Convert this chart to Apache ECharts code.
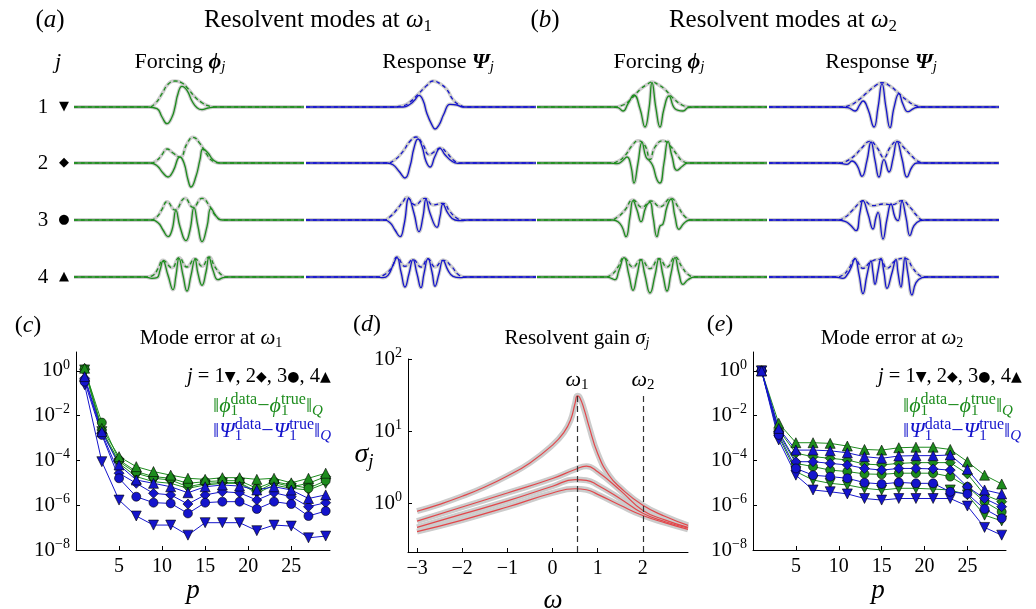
<!doctype html>
<html>
<head>
<meta charset="utf-8">
<title>Resolvent modes and mode errors</title>
<script src="https://cdn.jsdelivr.net/npm/echarts@6/dist/echarts.min.js"></script>
<style>body{margin:0;background:#fff}#main{width:1036px;height:609px}</style>
</head>
<body>
<div id="main"></div>
<script>
var SERIF = 'Liberation Serif';
var GREEN = '#1d8c1d', BLUE = '#1414cc', RED = '#e2474b', GRAY = '#cccccc';

// ---- mode shapes: [position, amplitude] pairs, |mode| and Re(mode) for j = 1..4 ----
var forc1Abs = [
  [[74,0],[81,3.3],[88,13.3],[94,22.7],[101,26],[108,24],[114,18.3],[121,10],[128,4.3],[134,1.3],[141,0]],
  [[76,0],[83,2.7],[88,8.3],[93,14],[99,10],[106,5.7],[113,19.3],[119,25.7],[126,19.3],[133,8.3],[139,1.7],[146,0]],
  [[76,0],[83,3.3],[88,10.7],[93,18.3],[101,10],[111,21.7],[119,12.7],[128,21.7],[136,13.3],[141,5],[148,0]],
  [[71,0],[79,1.7],[84,8.3],[89,16.7],[98,9.3],[105,19.3],[113,10],[121,18.3],[128,10.7],[135,20],[141,10],[148,1.7],[153,0]]
];
var forc1Re = [
  [[74,0],[83,-1.7],[88,-10],[93,-16.7],[98,-10],[101,0],[104,13.3],[108,20.7],[113,16.7],[118,6],[123,-0.7],[128,-2.7],[134,-1],[141,0]],
  [[76,0],[83,-2.7],[89,-10],[94,-14],[99,-8.3],[106,6],[110,0],[114,-16.7],[117,-24],[122,-13.3],[126,3.3],[129,14],[134,10],[139,3.3],[146,0]],
  [[76,0],[84,-2.7],[89,-10],[94,-16.7],[98,-10],[102,9.3],[106,-6.7],[112,-20.7],[116,-10],[120,12.3],[124,-6.7],[128,-21.7],[133,-6.7],[137,11.7],[142,4],[148,0]],
  [[71,0],[78,-1.3],[83,-0.7],[86,6.7],[89,16],[94,1.7],[99,-12.7],[102,1.7],[105,18.7],[109,1.7],[113,-14],[117,1.7],[121,17.7],[124,3.3],[128,-8.3],[132,5],[135,19.3],[139,6.7],[144,-2.7],[149,-0.7],[154,0]]
];
var resp1Abs = [
  [[84,0],[96,1],[104,5],[112,12.7],[121,21.7],[127,26],[134,23.3],[141,17.3],[147,7.3],[154,1.7],[161,0]],
  [[81,0],[89,3.3],[97,11.7],[104,21.7],[110,26],[117,18.3],[123,8.3],[129,11.7],[134,15],[141,10],[147,3.3],[154,0]],
  [[77,0],[84,3.3],[91,10.7],[97,18.3],[101,22.7],[109,15],[119,21.7],[127,15],[137,16.7],[144,8.3],[151,1.7],[157,0]],
  [[71,0],[79,2.7],[86,10],[91,20],[99,10.7],[107,17.3],[115,10],[122,18.3],[129,10],[137,16.7],[146,10],[152,2.7],[159,0]]
];
var resp1Re = [
  [[84,0],[97,0],[104,2.7],[109,7.3],[113,11.7],[117,6.7],[121,-6.7],[126,-18],[129,-22],[133,-18],[138,-6.7],[144,2.7],[151,2],[157,0]],
  [[81,0],[87,-1.7],[93,-8.3],[99,-15],[104,-3.3],[108,15],[112,24],[116,16.7],[120,1.7],[124,-4],[129,6.7],[134,14.7],[139,8.3],[146,1.7],[152,-0.3],[159,0]],
  [[77,0],[84,-2.7],[89,-10],[94,-16.7],[98,-5],[103,21.7],[108,6.7],[113,-11.7],[117,3.3],[120,20.7],[124,6.7],[131,-7.3],[134,3.3],[137,16],[142,6.7],[149,0],[156,-0.7],[161,0]],
  [[71,0],[77,-0.7],[82,1.7],[87,11.7],[91,19.3],[95,5],[99,-10],[103,3.3],[107,17.3],[111,3.3],[115,-10.7],[118,3.3],[122,18.3],[126,5],[129,-9.3],[133,3.3],[137,16.7],[142,6.7],[147,0.7],[154,-0.7],[161,0]]
];
var forc2Abs = [
  [[76,0],[86,2],[95,9],[103,17.5],[110,22.5],[115,25],[121,22.5],[128,17.5],[136,9],[145,2],[153,0]],
  [[73,0],[81,1.7],[88,7.3],[95,17.3],[101,22.3],[108,17.3],[113,3.3],[118,16],[126,22.3],[133,17.3],[140,8.3],[146,1.7],[153,0]],
  [[73,0],[81,3.3],[88,10],[96,20],[105,12.7],[114,19],[123,13.3],[134,21.7],[141,13.3],[148,3.3],[155,0]],
  [[68,0],[75,2.7],[81,10],[87,19.3],[96,10],[104,17.3],[113,8.3],[122,18.3],[130,10],[138,20],[145,10],[151,2.7],[158,0]]
];
var forc2Re = [
  [[76,0],[81,-0.7],[86,-4],[91,3.3],[97,12],[103,-1.7],[108,-20],[112,-1.7],[115,24.5],[119,-1.7],[123,-20],[127,-1.7],[132,11],[138,-1.7],[146,-4],[151,-0.7],[156,0]],
  [[73,0],[80,-0.7],[85,1.7],[90,6],[94,-3.3],[97,-20],[101,0],[105,20.7],[109,6],[113,1.7],[116,-3.3],[120,-16.7],[123,-20],[127,0],[131,21.7],[135,6.7],[140,-7.3],[146,-2.7],[151,0]],
  [[76,0],[81,-1.7],[85,-6.7],[89,-16.7],[93,3.3],[96,19.3],[100,10],[104,-1.7],[109,13.3],[113,17.7],[116,3.3],[120,-16.7],[123,-6],[126,-4],[130,13.3],[134,21],[138,3.3],[142,-9.3],[147,-3.3],[153,0]],
  [[70,0],[75,-1.7],[78,-2.7],[82,6.7],[87,19.3],[92,1.7],[96,-13.3],[100,1.7],[104,17.3],[108,1.7],[113,-16],[118,1.7],[122,18.3],[126,1.7],[130,-14],[134,3.3],[138,19.3],[142,3.3],[146,-7.3],[151,-2.7],[158,0]]
];
var resp2Abs = [
  [[71,0],[81,1.7],[89,6.7],[98,14.3],[106,21],[113,24.3],[121,21],[129,14.3],[138,6.7],[146,1.7],[154,0]],
  [[71,0],[79,2.7],[86,7.7],[93,15.3],[101,21.7],[108,15.3],[115,5.3],[121,15.3],[128,21.7],[135,15.3],[143,6.7],[149,1.7],[156,0]],
  [[68,0],[76,2.7],[83,9.3],[91,17.7],[94,19.3],[104,14.3],[114,16],[123,15.3],[133,19.3],[141,12.7],[148,4.3],[154,0]],
  [[66,0],[74,2],[80,8.7],[86,17.7],[94,8.7],[102,15.3],[111,17.7],[118,8.7],[127,16.7],[136,18.7],[144,8.7],[150,2],[156,0]]
];
var resp2Re = [
  [[71,0],[79,-0.7],[86,-4],[91,2.7],[94,6],[99,-2.3],[105,-20],[109,-0.7],[113,23.3],[117,-0.7],[121,-20.7],[125,-0.7],[130,13.3],[134,2.7],[139,-4.7],[145,-1.3],[151,0]],
  [[68,0],[78,-1.3],[83,2],[88,-2.3],[93,-13.3],[98,2.7],[102,21],[106,2.7],[110,-14],[115,3.3],[120,-9],[124,4.3],[128,21.7],[133,4.3],[138,-14],[143,-4],[148,0],[154,0]],
  [[68,0],[76,-1.3],[81,-4.7],[87,-10.7],[91,7.7],[94,19.3],[99,6],[104,-9],[107,2.7],[109,7.7],[114,-19],[118,1],[122,16],[126,2.7],[129,-0.7],[133,18.7],[137,2.7],[141,-15.7],[145,-5.7],[151,-0.7],[156,0]],
  [[66,0],[74,-1.3],[78,2],[82,9.3],[86,18.7],[90,2.7],[94,-16.7],[98,2],[102,16],[104,4.3],[106,-7.3],[109,6],[112,18.7],[115,4.3],[118,-11.3],[123,4.3],[127,17.7],[129,4.3],[132,-10],[134,4.3],[136,19.3],[139,2.7],[143,-18],[147,-5.7],[153,-0.7],[158,0]]
];

// ---- mode errors vs p ----
var pModes = [1,3,5,7,9,11,13,15,17,19,21,23,25,27,29];
// (c) at omega_1
var cPhi1 = [1.11,1.94e-3,7.4e-5,1.9e-5,1.13e-5,9.5e-6,5.7e-6,8.0e-6,9.5e-6,9.5e-6,3.4e-6,8.0e-6,5.7e-6,4.8e-6,9.5e-6];
var cPhi2 = [1.19,2.3e-3,8.8e-5,2.7e-5,1.6e-5,1.34e-5,6.7e-6,9.5e-6,1.02e-5,1.02e-5,4.0e-6,1.02e-5,6.7e-6,9.5e-6,1.9e-5];
var cPhi3 = [1.19,4.9e-3,1.05e-4,3.2e-5,1.9e-5,1.6e-5,9.5e-6,1.13e-5,1.25e-5,1.25e-5,5.7e-6,1.13e-5,8.0e-6,5.7e-6,1.25e-5];
var cPhi4 = [1.32,2.7e-3,1.48e-4,5.3e-5,3.2e-5,2.2e-5,1.6e-5,1.43e-5,1.7e-5,1.7e-5,1.43e-5,1.6e-5,1.0e-5,1.6e-5,2.7e-5];
var cPsi1 = [0.24,8.8e-5,1.7e-6,3.3e-7,1.3e-7,1.3e-7,4.6e-8,1.66e-7,1.66e-7,1.66e-7,7.3e-8,1.3e-7,1.17e-7,3.5e-8,4.2e-8];
var cPsi2 = [0.47,1.63e-3,2.7e-5,9.5e-6,3.4e-6,2.9e-6,1.13e-6,2.9e-6,4.0e-6,3.6e-6,1.7e-6,3.6e-6,2.4e-6,8.6e-7,1.3e-6];
var cPsi3 = [0.33,1.38e-3,1.6e-5,2.4e-6,1.3e-6,1.21e-6,4.3e-7,1.3e-6,1.44e-6,1.44e-6,6.8e-7,1.44e-6,1.13e-6,3.3e-7,5.5e-7];
var cPsi4 = [0.56,1.94e-3,6.3e-5,1.34e-5,9.5e-6,6.7e-6,3.6e-6,6.7e-6,8.0e-6,7.2e-6,4.8e-6,6.7e-6,4.8e-6,2.0e-6,2.9e-6];
// (e) at omega_2
var ePhi1 = [1,1.16e-3,3.2e-5,1.34e-5,9.5e-6,8.0e-6,5.7e-6,4.8e-6,5.7e-6,5.7e-6,5.3e-6,4.8e-6,2.9e-6,3.6e-7,2.0e-7];
var ePhi2 = [1,2.3e-3,2.1e-4,1.48e-4,1.25e-4,1.05e-4,6.9e-5,6.3e-5,7.4e-5,8.0e-5,8.0e-5,8.0e-5,2.5e-5,2.9e-6,1.44e-6];
var ePhi3 = [1,1.63e-3,7.4e-5,5.3e-5,3.7e-5,3.2e-5,2.5e-5,2.4e-5,2.7e-5,2.7e-5,2.7e-5,1.9e-5,6.7e-6,1.44e-6,5.1e-7];
var ePhi4 = [1,4.6e-3,6.2e-4,6.2e-4,5.8e-4,4.4e-4,3.1e-4,2.9e-4,3.7e-4,3.9e-4,3.9e-4,3.1e-4,8.8e-5,2.2e-5,8.9e-6];
var ePsi1 = [1,8.2e-4,2.2e-5,4.8e-6,4.0e-6,3.2e-6,2.0e-6,1.7e-6,2.0e-6,2.0e-6,2.0e-6,2.0e-6,9.2e-7,1.02e-7,4.6e-8];
var ePsi2 = [1,1.94e-3,8.8e-5,8.8e-5,7.4e-5,6.3e-5,4.4e-5,3.7e-5,4.4e-5,4.4e-5,4.2e-5,3.7e-5,6.7e-6,2.0e-6,8.6e-7];
var ePsi3 = [1,1.38e-3,4.4e-5,2.2e-5,1.9e-5,1.6e-5,1.02e-5,8.9e-6,1.05e-5,9.5e-6,9.5e-6,4.0e-6,3.2e-6,6.8e-7,2.6e-7];
var ePsi4 = [1,2.7e-3,2.9e-4,2.9e-4,2.7e-4,2.2e-4,1.48e-4,1.25e-4,1.58e-4,1.64e-4,1.64e-4,1.75e-4,4.0e-5,4.8e-6,3.2e-6];

// ---- resolvent gain ----
var omegaTop = [-3,-2.5,-2,-1.5,-1,-0.5,0,0.25,0.4,0.5,0.55,0.6,0.7,0.8,1,1.25,1.5,2,2.5,3];
var sigma1 = [0.77,0.96,1.24,1.67,2.38,3.61,6.38,9.5,14.2,24.3,30.8,29.5,20.0,12.1,4.88,2.43,1.64,0.93,0.65,0.49];
var omegaLow = [-3,-2,-1,0,0.5,0.75,1,1.5,2,2.5,3];
var sigma2 = [0.56,0.88,1.38,2.19,2.92,3.25,2.71,1.50,0.79,0.58,0.46];
var sigma3 = [0.46,0.70,1.07,1.71,2.12,2.07,1.77,1.15,0.72,0.55,0.45];
var sigma4 = [0.40,0.58,0.88,1.38,1.58,1.53,1.32,0.93,0.67,0.53,0.43];
var omega1 = 0.55, omega2 = 2, omegaMarkTop = 31.6;

var chart = echarts.init(document.getElementById('main'));
var grids = [], xAxes = [], yAxes = [], series = [];

function addGrid(g, xa, ya) {
  var i = grids.length;
  grids.push(g);
  xa.gridIndex = i; ya.gridIndex = i;
  xAxes.push(xa); yAxes.push(ya);
  return i;
}
function lineSeries(gi, data, color, width, dash, z) {
  return {type:'line', xAxisIndex:gi, yAxisIndex:gi, data:data, smooth:true, symbol:'none',
    silent:true, z:z, lineStyle:{color:color, width:width, type:dash}};
}

// top: mode shapes
var SPAN = 230;
var rowBase = [107, 163, 220, 277];
var waveCols = [
  {abs:forc1Abs, re:forc1Re, color:GREEN, left:74},
  {abs:resp1Abs, re:resp1Re, color:BLUE, left:306},
  {abs:forc2Abs, re:forc2Re, color:GREEN, left:537},
  {abs:resp2Abs, re:resp2Re, color:BLUE, left:769}
];
function padEnds(d) { return [[0,0]].concat(d, [[SPAN,0]]); }
waveCols.forEach(function (col) {
  for (var j = 0; j < 4; j++) {
    var gi = addGrid({left:col.left, top:rowBase[j]-30, width:SPAN, height:60},
      {type:'value', min:0, max:SPAN, show:false},
      {type:'value', min:-30, max:30, show:false});
    var a = padEnds(col.abs[j]), r = padEnds(col.re[j]);
    series.push(lineSeries(gi, a, GRAY, 3.5, 'solid', 1));
    series.push(lineSeries(gi, r, GRAY, 3.5, 'solid', 1));
    series.push(lineSeries(gi, r, col.color, 1.3, 'solid', 2));
    series.push(lineSeries(gi, a, col.color, 1.3, [4,3], 3));
  }
});

// bottom axes
function pow10(v) {
  var e = Math.round(Math.log10(v));
  return '10{sup|' + (e < 0 ? '\u2212' + (-e) : e) + '}';
}
var tickStyle = {show:true, inside:true, length:4, lineStyle:{color:'#000'}};
var lineBlack = {show:true, onZero:false, lineStyle:{color:'#000', width:1}};
function numAxis(min, max, extra) {
  var ax = {type:'value', min:min, max:max, axisLine:lineBlack, axisTick:tickStyle, splitLine:{show:false},
    axisLabel:{color:'#000', fontFamily:SERIF, fontSize:20, margin:7, showMinLabel:false, showMaxLabel:false,
      formatter:function (v) { return v < 0 ? '\u2212' + (-v) : String(v); }}};
  return Object.assign(ax, extra);
}
function logAxis(min, max, extra, showMin, showMax) {
  var ax = {type:'log', logBase:10, min:min, max:max, axisLine:lineBlack, axisTick:tickStyle,
    minorTick:{show:false}, splitLine:{show:false},
    axisLabel:{color:'#000', fontFamily:SERIF, fontSize:21, margin:6, showMinLabel:showMin, showMaxLabel:showMax,
      formatter:pow10, rich:{sup:{fontFamily:SERIF, fontSize:14, color:'#000', padding:[0,0,12,0]}}}};
  return Object.assign(ax, extra);
}

var markers = [{s:'triangle', r:180, z:10}, {s:'diamond', r:0, z:10}, {s:'circle', r:0, z:9}, {s:'triangle', r:0, z:10}];
function errSeries(gi, vals, color, k) {
  return {type:'line', xAxisIndex:gi, yAxisIndex:gi, silent:true,
    data:pModes.map(function (p, i) { return [p, vals[i]]; }),
    symbol:markers[k].s, symbolRotate:markers[k].r, symbolSize:markers[k].z,
    lineStyle:{color:color, width:1}, itemStyle:{color:color, borderColor:'#000', borderWidth:0.6}, z:3};
}

var giC = addGrid({left:76, top:352, width:254, height:198}, numAxis(0, 29.5, {interval:5}),
  logAxis(1e-8, 7, {interval:2}, true, false));
[cPhi1, cPhi2, cPhi3, cPhi4].forEach(function (v, k) { series.push(errSeries(giC, v, GREEN, k)); });
[cPsi1, cPsi2, cPsi3, cPsi4].forEach(function (v, k) { series.push(errSeries(giC, v, BLUE, k)); });

var giE = addGrid({left:753, top:352, width:253, height:198}, numAxis(0, 29.5, {interval:5}),
  logAxis(1e-8, 7, {interval:2}, true, false));
[ePhi1, ePhi2, ePhi3, ePhi4].forEach(function (v, k) { series.push(errSeries(giE, v, GREEN, k)); });
[ePsi1, ePsi2, ePsi3, ePsi4].forEach(function (v, k) { series.push(errSeries(giE, v, BLUE, k)); });

var sigmaMin = 0.209;
var giD = addGrid({left:408, top:359, width:280, height:193}, numAxis(-3.2, 3, {splitNumber:6}),
  logAxis(sigmaMin, 100, {splitNumber:3}, false, true));
var gainCurves = [[omegaTop, sigma1], [omegaLow, sigma2], [omegaLow, sigma3], [omegaLow, sigma4]];
gainCurves.forEach(function (c) {
  series.push(lineSeries(giD, c[0].map(function (w, i) { return [w, c[1][i]]; }), GRAY, 6, 'solid', 1));
});
gainCurves.forEach(function (c, k) {
  var s = lineSeries(giD, c[0].map(function (w, i) { return [w, c[1][i]]; }), RED, 1.2, 'solid', 2);
  if (k === 0) {
    s.markLine = {silent:true, symbol:['none','none'], label:{show:false},
      lineStyle:{color:'#333', type:[6,4], width:1.2},
      data:[[{coord:[omega1, sigmaMin]}, {coord:[omega1, omegaMarkTop]}],
            [{coord:[omega2, sigmaMin]}, {coord:[omega2, omegaMarkTop]}]]};
  }
  series.push(s);
});

// text
function richFor(s, c, supRatio) {
  var sub = Math.round(s * 0.68), sup = Math.round(s * (supRatio || 0.62));
  return {
    i:{fontFamily:SERIF, fontSize:s, fontStyle:'italic', fill:c},
    bi:{fontFamily:SERIF, fontSize:s, fontStyle:'italic', fontWeight:'bold', fill:c},
    sub:{fontFamily:SERIF, fontSize:sub, fill:c, padding:[Math.round(s*0.5),0,0,0]},
    isub:{fontFamily:SERIF, fontSize:sub, fontStyle:'italic', fill:c, padding:[Math.round(s*0.5),0,0,0]},
    sub0:{fontFamily:SERIF, fontSize:sub, fill:c, width:0, padding:[Math.round(s*0.5),0,0,0]},
    sup:{fontFamily:SERIF, fontSize:sup, fill:c, padding:[0,0,Math.round(s*0.6),0]},
    mk:{fontFamily:'DejaVu Sans', fontSize:Math.round(s*0.7), fill:c}
  };
}
function txt(x, y, text, size, opts) {
  opts = opts || {};
  var c = opts.color || '#000';
  return {type:'text', x:x, y:y, silent:true, z:50,
    style:{text:text, fontFamily:SERIF, fontSize:size, fontStyle:opts.italic ? 'italic' : 'normal', fill:c,
      align:opts.align || 'center', verticalAlign:'middle', rich:richFor(size, c, opts.sup)}};
}
var rowMarks = ['\u25BC', '\u25C6', '\u25CF', '\u25B2'];
var texts = [
  txt(50, 20, '({i|a})', 25),
  txt(318, 20, 'Resolvent modes at {i|\u03C9}{sub|1}', 25),
  txt(545, 20, '({i|b})', 25),
  txt(783, 20, 'Resolvent modes at {i|\u03C9}{sub|2}', 25),
  txt(58, 62, 'j', 22, {italic:true}),
  txt(180, 62, 'Forcing {bi|\u03D5}{isub|j}', 22),
  txt(438, 62, 'Response {bi|\u03A8}{isub|j}', 22),
  txt(659, 62, 'Forcing {bi|\u03D5}{isub|j}', 22),
  txt(881, 62, 'Response {bi|\u03A8}{isub|j}', 22),
  txt(28, 326, '({i|c})', 24),
  txt(211, 338, 'Mode error at {i|\u03C9}{sub|1}', 21),
  txt(367, 325, '({i|d})', 24),
  txt(577, 338, 'Resolvent gain {i|\u03C3}{isub|j}', 21),
  txt(720, 325, '({i|e})', 24),
  txt(892, 338, 'Mode error at {i|\u03C9}{sub|2}', 21),
  txt(193, 591, 'p', 27, {italic:true}),
  txt(878, 591, 'p', 27, {italic:true}),
  txt(553, 601, '\u03C9', 27, {italic:true}),
  txt(364, 455, '{i|\u03C3}{isub|j}', 28),
  txt(577, 380, '{i|\u03C9}{sub|1}', 22),
  txt(643, 380, '{i|\u03C9}{sub|2}', 22)
];
rowBase.forEach(function (y, j) {
  texts.push(txt(43, y, String(j + 1), 21));
  texts.push(txt(64, y, '{mk|' + rowMarks[j] + '}', 19));
});
var legJ = '{i|j} = 1{mk|\u25BC}, 2{mk|\u25C6}, 3{mk|\u25CF}, 4{mk|\u25B2}';
var legPhi = '\u2016{i|\u03D5}{sub0|1}{sup|data}\u2212{i|\u03D5}{sub0|1}{sup|true}\u2016{isub|Q}';
var legPsi = '\u2016{i|\u03A8}{sub0|1}{sup|data}\u2212{i|\u03A8}{sub0|1}{sup|true}\u2016{isub|Q}';
[[187, 213], [878, 903]].forEach(function (lx) {
  texts.push(txt(lx[0], 377, legJ, 20.5, {align:'left'}));
  texts.push(txt(lx[1], 406, legPhi, 22, {align:'left', color:GREEN, sup:0.72}));
  texts.push(txt(lx[1], 431, legPsi, 22, {align:'left', color:BLUE, sup:0.72}));
});

chart.setOption({
  animation:false,
  grid:grids, xAxis:xAxes, yAxis:yAxes, series:series,
  graphic:texts
});
</script>
</body>
</html>
